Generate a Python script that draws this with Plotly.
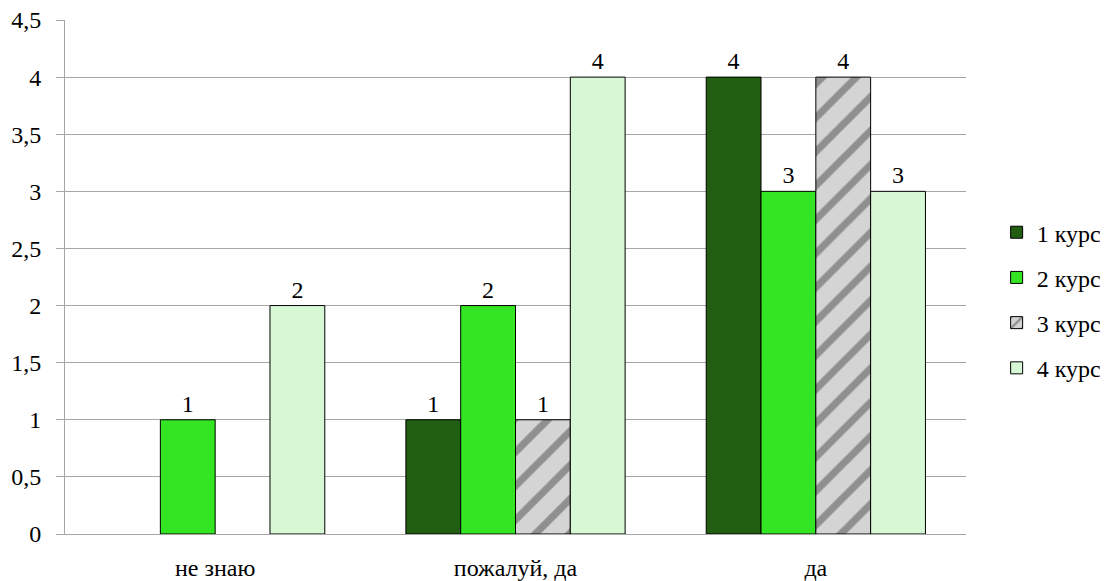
import plotly.graph_objects as go

categories = ["не знаю", "пожалуй, да", "да"]
series_names = ["1 курс", "2 курс", "3 курс", "4 курс"]
kurs1 = [0, 1, 4]
kurs2 = [1, 2, 3]
kurs3 = [0, 1, 4]
kurs4 = [2, 4, 3]
y_ticks = [0, 0.5, 1, 1.5, 2, 2.5, 3, 3.5, 4, 4.5]

values = [kurs1, kurs2, kurs3, kurs4]
colors = ["#215E12", "#33E522", "#C0C0C0", "#D7F8D5"]

font_family = "Liberation Serif, DejaVu Serif"
fs = 24

fig = go.Figure()
for i, (name, vals, col) in enumerate(zip(series_names, values, colors)):
    marker = dict(color=col, line=dict(color="black", width=1))
    if i == 2:
        marker["pattern"] = dict(shape="/", fgcolor="#4A4A4A", bgcolor="#D4D4D4",
                                 size=24, solidity=0.3, fillmode="overlay")
    fig.add_trace(go.Bar(
        x=categories, y=[v if v else None for v in vals], name=name, marker=marker,
        text=[str(v) if v else "" for v in vals],
        textposition="outside", cliponaxis=False,
        textfont=dict(family=font_family, size=fs, color="black"),
        legendgroup=f"g{i}",
    ))

fig.update_layout(
    barmode="group",
    bargap=0.27,
    bargroupgap=0,
    separators=", ",
    width=1100, height=573,
    margin=dict(l=57, r=142, t=12, b=47, autoexpand=False),
    plot_bgcolor="white", paper_bgcolor="white",
    font=dict(family=font_family, size=fs, color="black"),
    legend=dict(x=1.034, y=0.455, xanchor="left", yanchor="middle",
                font=dict(family=font_family, size=fs, color="black"),
                tracegroupgap=11, itemwidth=30),
    showlegend=True,
)
fig.update_yaxes(range=[0, 4.5], tickvals=y_ticks, showgrid=True, gridcolor="#A6A6A6",
                 gridwidth=1, showline=True, linecolor="#A6A6A6", ticks="outside",
                 ticklen=8, tickcolor="#A6A6A6", zeroline=False, ticklabelstandoff=10,
                 ticklabeloverflow="allow",
                 tickfont=dict(family=font_family, size=fs))
fig.update_xaxes(showline=True, linecolor="#A6A6A6", ticks="", showgrid=False,
                 ticklabelstandoff=12, ticklabeloverflow="allow",
                 tickfont=dict(family=font_family, size=fs))

fig.write_html("out.html")
